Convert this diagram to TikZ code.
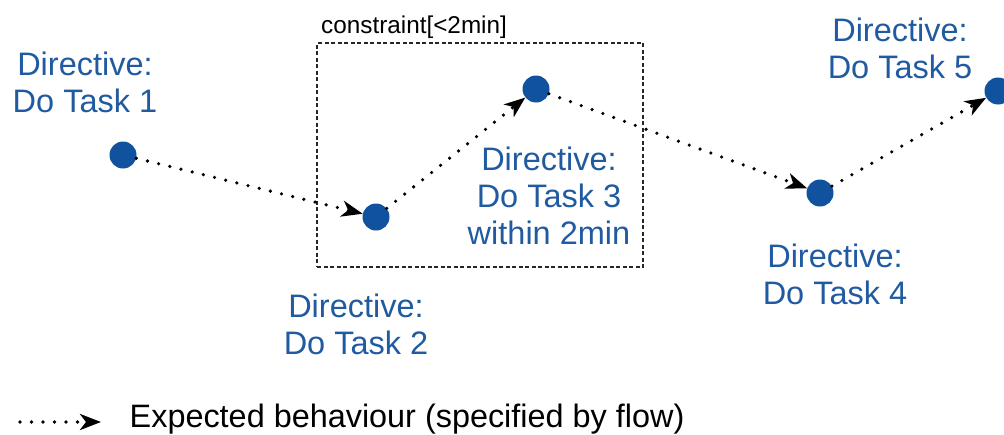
\documentclass[tikz,border=0pt]{standalone}
\usepackage{fontspec}
\setmainfont{Liberation Sans}
\usetikzlibrary{arrows.meta}
\definecolor{dotblue}{RGB}{16,82,158}
\definecolor{txtblue}{RGB}{32,90,160}
\tikzset{
  taskdot/.style={circle, fill=dotblue, draw=none, minimum size=27pt, inner sep=0pt},
  tasklabel/.style={text=txtblue, align=center, inner sep=0pt, anchor=north,
    font=\fontsize{32.5}{37}\selectfont},
  flow/.style={line width=3.6pt, line cap=round, dash pattern=on 0pt off 11.5pt,
    -{Stealth[length=21pt,width=16pt,inset=6pt]}},
  constraintbox/.style={draw=black!85, line width=1.1pt, dash pattern=on 4pt off 2.5pt},
}
\begin{document}
\begin{tikzpicture}[x=1pt,y=-1pt]
  \useasboundingbox (0,0) rectangle (1004,434);
  \clip (0,0) rectangle (1004,434);

  % constraint region around tasks 2 and 3
  \node[constraintbox, minimum width=326pt, minimum height=224pt, inner sep=0pt]
    (box) at (480,155) {};
  \node[anchor=base west, inner sep=0pt, font=\fontsize{24.3}{28}\selectfont]
    (boxlabel) at (321,33) {constraint[<2min]};

  % task points
  \node[taskdot] (n1) at (123,155) {};
  \node[taskdot] (n2) at (376,217) {};
  \node[taskdot] (n3) at (536,89) {};
  \node[taskdot] (n4) at (820,193) {};
  \node[taskdot] (n5) at (998,91) {};

  % directives
  \node[tasklabel] (t1) at (85,52) {Directive:\\Do Task 1};
  \node[tasklabel] (t2) at (356,294) {Directive:\\Do Task 2};
  \node[tasklabel] (t3) at (549,147) {Directive:\\Do Task 3\\within 2min};
  \node[tasklabel] (t4) at (835,244) {Directive:\\Do Task 4};
  \node[tasklabel] (t5) at (900,18) {Directive:\\Do Task 5};

  % expected flow between tasks
  \draw[flow] (n1) -- (n2);
  \draw[flow] (n2) -- (n3);
  \draw[flow] (n3) -- (n4);
  \draw[flow] (n4) -- (n5);

  % legend
  \coordinate (la) at (20,422);
  \coordinate (lb) at (101,422);
  \draw[flow] (la) -- (lb);
  \node[anchor=base west, inner sep=0pt, font=\fontsize{32.4}{38}\selectfont]
    (legend) at (129.5,427) {Expected behaviour (specified by flow)};
\end{tikzpicture}
\end{document}
